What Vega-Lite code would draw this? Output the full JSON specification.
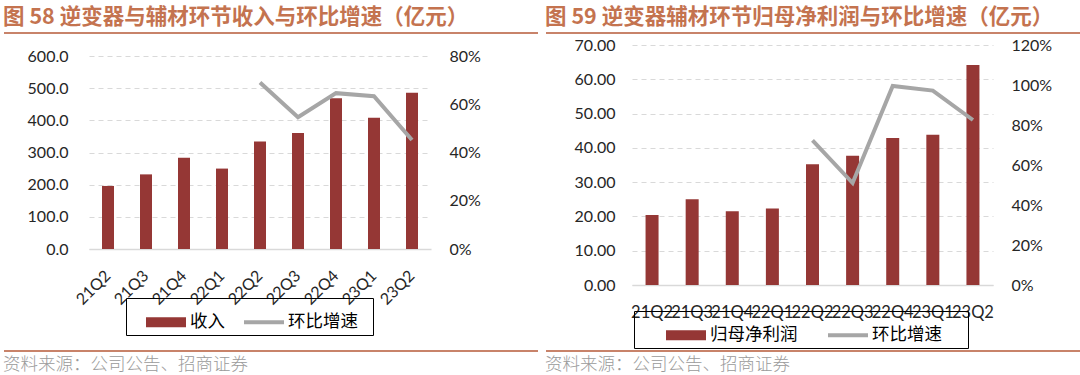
{
  "$schema": "https://vega.github.io/schema/vega-lite/v6.json",
  "background": "white",
  "padding": {"left": 3, "top": 6, "right": 0, "bottom": 0},
  "config": {"view": {"stroke": null}},
  "datasets": {
    "revenue": [
      {"q": "21Q2", "value": 196, "growth": null},
      {"q": "21Q3", "value": 232, "growth": null},
      {"q": "21Q4", "value": 284, "growth": null},
      {"q": "22Q1", "value": 250, "growth": null},
      {"q": "22Q2", "value": 334, "growth": 0.69},
      {"q": "22Q3", "value": 361, "growth": 0.546},
      {"q": "22Q4", "value": 469, "growth": 0.646},
      {"q": "23Q1", "value": 408, "growth": 0.633},
      {"q": "23Q2", "value": 486, "growth": 0.452}
    ],
    "profit": [
      {"q": "21Q2", "value": 20.4, "growth": null},
      {"q": "21Q3", "value": 25.0, "growth": null},
      {"q": "21Q4", "value": 21.5, "growth": null},
      {"q": "22Q1", "value": 22.3, "growth": null},
      {"q": "22Q2", "value": 35.2, "growth": 0.723},
      {"q": "22Q3", "value": 37.7, "growth": 0.51},
      {"q": "22Q4", "value": 42.9, "growth": 0.995},
      {"q": "23Q1", "value": 43.8, "growth": 0.972},
      {"q": "23Q2", "value": 64.2, "growth": 0.825}
    ],
    "one": [{"k": 1}]
  },
  "resolve": {"scale": {"color": "independent"}, "legend": {"color": "independent"}},
  "spacing": 6,
  "hconcat": [
    {
      "spacing": 14,
      "vconcat": [
        {
          "width": 449, "height": 2,
          "data": {"name": "one"},
          "title": {"text": "图 58  逆变器与辅材环节收入与环比增速（亿元）", "anchor": "start", "frame": "bounds", "font": "Noto Sans CJK SC", "fontSize": 21.5, "fontWeight": "bold", "color": "#c4734f", "offset": 3},
          "mark": {"type": "rule", "color": "#c8836a", "strokeWidth": 2},
          "encoding": {
            "x": {"datum": -85, "type": "quantitative", "scale": {"domain": [0, 449], "nice": false, "zero": false}, "axis": null},
            "x2": {"datum": 449},
            "y": {"datum": 0, "type": "quantitative", "scale": {"domain": [0, 1]}, "axis": null}
          }
        },
        {
          "width": 342, "height": 193,
          "data": {"name": "revenue"},
          "encoding": {
            "x": {"field": "q", "type": "ordinal", "sort": null, "scale": {"paddingInner": 0, "paddingOuter": 0},
              "axis": {"title": null, "labelAngle": -45, "labelAlign": "right", "labelBaseline": "middle", "labelPadding": 24, "ticks": false, "domainColor": "#d9d9d9", "domainWidth": 1.5, "labelFont": "Lato", "labelFontSize": 16, "labelColor": "#262626", "labelOverlap": false}}
          },
          "layer": [
            {
              "mark": {"type": "bar", "size": 12},
              "encoding": {
                "y": {"field": "value", "type": "quantitative", "scale": {"domain": [0, 600]},
                  "axis": {"title": null, "values": [0, 100, 200, 300, 400, 500, 600], "format": ".1f", "grid": true, "gridDash": [5, 4], "gridColor": "#d9d9d9", "domain": false, "ticks": false, "labelPadding": 21, "minExtent": 85, "labelFont": "Lato", "labelFontSize": 16, "labelColor": "#262626"}},
                "color": {"datum": "收入", "type": "nominal",
                  "scale": {"domain": ["收入", "环比增速"], "range": ["#953735", "#a6a6a6"]},
                  "legend": {"orient": "none", "legendX": 37, "legendY": 267, "direction": "horizontal", "title": ".", "titleOrient": "right", "titleColor": "rgba(255,255,255,0)", "titleFontSize": 8, "titlePadding": 8, "strokeColor": "#000", "padding": 4, "symbolSize": 1600, "symbolType": "M-1,-0.25H1V0.25H-1Z", "symbolOffset": 16, "columnPadding": 3, "labelFont": "Noto Sans CJK SC", "labelFontSize": 17.5, "labelColor": "#000", "labelOffset": 4,
                    "encode": {"symbols": {"update": {
                      "shape": [{"test": "datum.value === '环比增速'", "value": "M-1,-0.1H1V0.1H-1Z"}, {"value": "M-1,-0.25H1V0.25H-1Z"}],
                      "fill": [{"test": "datum.value === '环比增速'", "value": "#a6a6a6"}, {"value": "#953735"}],
                      "stroke": {"value": "transparent"}, "strokeWidth": {"value": 0}}}}}}
              }
            },
            {
              "transform": [{"filter": "datum.growth != null"}],
              "mark": {"type": "line", "strokeWidth": 4},
              "encoding": {
                "y": {"field": "growth", "type": "quantitative", "scale": {"domain": [0, 0.8]},
                  "axis": {"orient": "right", "title": null, "values": [0, 0.2, 0.4, 0.6, 0.8], "format": ".0%", "grid": false, "domain": false, "ticks": false, "labelPadding": 18, "labelFont": "Lato", "labelFontSize": 16, "labelColor": "#262626"}},
                "color": {"datum": "环比增速", "type": "nominal"}
              }
            }
          ],
          "resolve": {"scale": {"y": "independent"}}
        },
        {
          "width": 449, "height": 29,
          "data": {"name": "one"},
          "title": {"text": "资料来源：公司公告、招商证券", "orient": "bottom", "anchor": "start", "frame": "bounds", "font": "Noto Sans CJK SC", "fontSize": 17.5, "fontWeight": 300, "color": "#9a9a9a", "offset": 4},
          "mark": {"type": "rule", "color": "#c8836a", "strokeWidth": 2},
          "encoding": {
            "x": {"datum": -85, "type": "quantitative", "scale": {"domain": [0, 449], "nice": false, "zero": false}, "axis": null},
            "x2": {"datum": 449},
            "y": {"datum": 0, "type": "quantitative", "scale": {"domain": [0, 1]}, "axis": null}
          }
        }
      ]
    },
    {
      "spacing": 3,
      "vconcat": [
        {
          "width": 449, "height": 2,
          "data": {"name": "one"},
          "title": {"text": "图 59  逆变器辅材环节归母净利润与环比增速（亿元）", "anchor": "start", "frame": "bounds", "font": "Noto Sans CJK SC", "fontSize": 21.5, "fontWeight": "bold", "color": "#c4734f", "offset": 3},
          "mark": {"type": "rule", "color": "#c8836a", "strokeWidth": 2},
          "encoding": {
            "x": {"datum": -86, "type": "quantitative", "scale": {"domain": [0, 449], "nice": false, "zero": false}, "axis": null},
            "x2": {"datum": 449},
            "y": {"datum": 0, "type": "quantitative", "scale": {"domain": [0, 1]}, "axis": null}
          }
        },
        {
          "width": 361, "height": 240,
          "data": {"name": "profit"},
          "encoding": {
            "x": {"field": "q", "type": "ordinal", "sort": null, "scale": {"paddingInner": 0, "paddingOuter": 0},
              "axis": {"title": null, "labelAngle": 0, "labelPadding": 19, "ticks": false, "domainColor": "#d9d9d9", "domainWidth": 1.5, "labelFont": "Lato", "labelFontSize": 16.5, "labelColor": "#262626", "labelOverlap": false, "labelFlush": false}}
          },
          "layer": [
            {
              "mark": {"type": "bar", "size": 13},
              "encoding": {
                "y": {"field": "value", "type": "quantitative", "scale": {"domain": [0, 70]},
                  "axis": {"title": null, "values": [0, 10, 20, 30, 40, 50, 60, 70], "format": ".2f", "grid": true, "gridDash": [5, 4], "gridColor": "#d9d9d9", "domain": false, "ticks": false, "labelPadding": 17, "minExtent": 86, "labelFont": "Lato", "labelFontSize": 16, "labelColor": "#262626"}},
                "color": {"datum": "归母净利润", "type": "nominal",
                  "scale": {"domain": ["归母净利润", "环比增速"], "range": ["#953735", "#a6a6a6"]},
                  "legend": {"orient": "none", "legendX": 2, "legendY": 280, "direction": "horizontal", "title": ".", "titleOrient": "right", "titleColor": "rgba(255,255,255,0)", "titleFontSize": 8, "titlePadding": 19, "strokeColor": "#000", "padding": 4, "symbolSize": 1600, "symbolType": "M-1,-0.25H1V0.25H-1Z", "symbolOffset": 28, "columnPadding": 2, "labelFont": "Noto Sans CJK SC", "labelFontSize": 17.5, "labelColor": "#000", "labelOffset": 4,
                    "encode": {"symbols": {"update": {
                      "shape": [{"test": "datum.value === '环比增速'", "value": "M-1,-0.1H1V0.1H-1Z"}, {"value": "M-1,-0.25H1V0.25H-1Z"}],
                      "fill": [{"test": "datum.value === '环比增速'", "value": "#a6a6a6"}, {"value": "#953735"}],
                      "stroke": {"value": "transparent"}, "strokeWidth": {"value": 0}}}}}}
              }
            },
            {
              "transform": [{"filter": "datum.growth != null"}],
              "mark": {"type": "line", "strokeWidth": 4},
              "encoding": {
                "y": {"field": "growth", "type": "quantitative", "scale": {"domain": [0, 1.2]},
                  "axis": {"orient": "right", "title": null, "values": [0, 0.2, 0.4, 0.6, 0.8, 1.0, 1.2], "format": ".0%", "grid": false, "domain": false, "ticks": false, "labelPadding": 18, "labelFont": "Lato", "labelFontSize": 16, "labelColor": "#262626"}},
                "color": {"datum": "环比增速", "type": "nominal"}
              }
            }
          ],
          "resolve": {"scale": {"y": "independent"}}
        },
        {
          "width": 449, "height": 27,
          "data": {"name": "one"},
          "title": {"text": "资料来源：公司公告、招商证券", "orient": "bottom", "anchor": "start", "frame": "bounds", "font": "Noto Sans CJK SC", "fontSize": 17.5, "fontWeight": 300, "color": "#9a9a9a", "offset": 4},
          "mark": {"type": "rule", "color": "#c8836a", "strokeWidth": 2},
          "encoding": {
            "x": {"datum": -86, "type": "quantitative", "scale": {"domain": [0, 449], "nice": false, "zero": false}, "axis": null},
            "x2": {"datum": 449},
            "y": {"datum": 0, "type": "quantitative", "scale": {"domain": [0, 1]}, "axis": null}
          }
        }
      ]
    }
  ]
}
